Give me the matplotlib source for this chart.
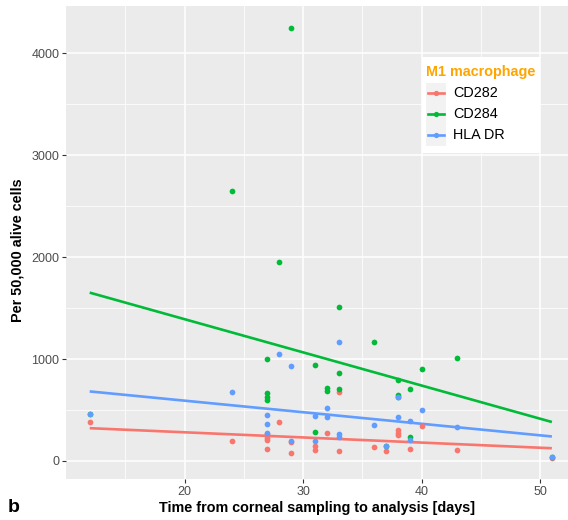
import numpy as np
import matplotlib
matplotlib.use("Agg")
import matplotlib.pyplot as plt
from matplotlib.lines import Line2D
from matplotlib.patches import Rectangle

plt.rcParams['font.family'] = ['Liberation Sans', 'DejaVu Sans']

# ---- data ----
series_names = ["CD282", "CD284", "HLA DR"]
series_colors = ["#F8766D", "#00BA38", "#619CFF"]

cd282_x = [12, 24, 27, 27, 27, 27, 28, 29, 29, 31, 31, 32, 33, 33, 36, 37, 38, 38, 38, 39, 40, 43, 51]
cd282_y = [380, 200, 265, 230, 205, 118, 380, 183, 75, 147, 105, 272, 677, 101, 140, 95, 304, 278, 252, 121, 343, 108, 28]

cd284_x = [12, 24, 27, 27, 27, 27, 28, 29, 31, 31, 32, 32, 33, 33, 33, 36, 37, 38, 38, 38, 39, 39, 40, 43, 51]
cd284_y = [464, 2650, 998, 664, 631, 599, 1953, 4250, 945, 285, 713, 690, 1514, 867, 705, 1168, 147, 795, 648, 631, 704, 235, 900, 1015, 38]

hla_x = [12, 24, 27, 27, 27, 28, 29, 29, 31, 31, 32, 32, 33, 33, 33, 36, 37, 38, 38, 39, 39, 40, 43, 51]
hla_y = [464, 677, 451, 360, 272, 1047, 932, 200, 445, 200, 523, 429, 1163, 262, 239, 353, 147, 631, 435, 396, 206, 500, 330, 38]

series_x = [cd282_x, cd284_x, hla_x]
series_y = [cd282_y, cd284_y, hla_y]

x_ticks = [20, 30, 40, 50]
y_ticks = [0, 1000, 2000, 3000, 4000]

W, H = 568, 520

# ---- figure ----
fig = plt.figure(figsize=(W / 100, H / 100), dpi=100)
ax = fig.add_axes([66/W, 41/H, (W-66)/W, 473/H])
ax.set_facecolor("#EBEBEB")
for s in ax.spines.values():
    s.set_visible(False)

ax.set_xlim(10.0, 52.36)
ax.set_ylim(-177, 4465)

ax.set_xticks(x_ticks)
ax.set_yticks(y_ticks)
ax.set_xticks([15, 25, 35, 45], minor=True)
ax.set_yticks([500, 1500, 2500, 3500], minor=True)
ax.grid(which="major", color="white", linewidth=1.1)
ax.grid(which="minor", color="white", linewidth=0.55)
ax.set_axisbelow(True)
ax.tick_params(which="major", length=2.7, width=0.8, color="#333333",
               labelcolor="#4D4D4D", labelsize=9, pad=2)
ax.tick_params(which="minor", length=0)

for xs, ys, col in zip(series_x, series_y, series_colors):
    xs = np.asarray(xs, float)
    ys = np.asarray(ys, float)
    ax.scatter(xs, ys, s=17, color=col, linewidths=0, zorder=3)
    k, b = np.polyfit(xs, ys, 1)
    xl = np.array([xs.min(), xs.max()])
    ax.plot(xl, k * xl + b, color=col, linewidth=1.9, zorder=2, solid_capstyle="butt")

ax.set_xlabel("Time from corneal sampling to analysis [days]", fontsize=10.4,
              fontweight="bold", color="black", labelpad=2.5)
ax.set_ylabel("Per 50,000 alive cells", fontsize=10.4, fontweight="bold",
              color="black")
ax.yaxis.set_label_coords(-0.082, 0.484)

# ---- legend (ggplot-style, built in figure pixel coordinates) ----
def fx(px):
    return px / W

def fy(py):
    return 1 - py / H

fig.patches.append(Rectangle((fx(422), fy(153)), (540-422)/W, (153-57)/H,
                             transform=fig.transFigure, facecolor="white",
                             edgecolor="none", zorder=5))
fig.patches.append(Rectangle((fx(426), fy(146)), 20/W, 63/H,
                             transform=fig.transFigure, facecolor="#F2F2F2",
                             edgecolor="none", zorder=6))
fig.text(fx(426), fy(72), "M1 macrophage", color="#FFA500", fontsize=10.4,
         fontweight="bold", va="center", ha="left", zorder=7)
for i, (name, col) in enumerate(zip(series_names, series_colors)):
    yc = 93 + 21 * i
    fig.lines.append(Line2D([fx(428), fx(444)], [fy(yc), fy(yc)],
                            transform=fig.transFigure, color=col, linewidth=1.9,
                            zorder=7))
    fig.lines.append(Line2D([fx(436)], [fy(yc)], transform=fig.transFigure,
                            color=col, marker="o", markersize=3.8,
                            markeredgewidth=0, linestyle="none", zorder=8))
    fig.text(fx(453), fy(yc), name, color="black", fontsize=10.4,
             va="center", ha="left", zorder=7)

fig.text(8/W, 1 - 508/H, "b", fontsize=14, fontweight="bold", va="center", ha="left")

fig.savefig("out.png", dpi=100)
